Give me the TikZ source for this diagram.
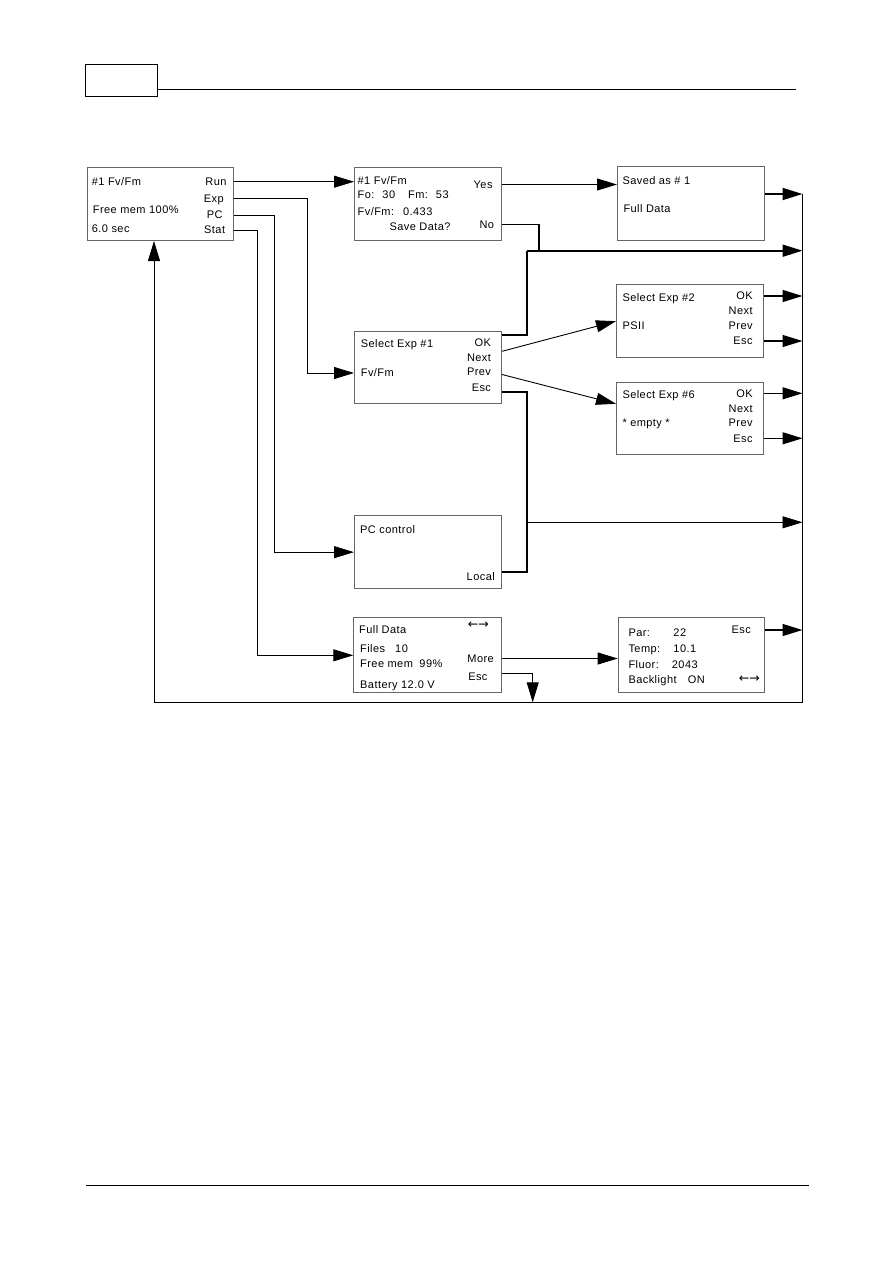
\documentclass[tikz,border=0pt]{standalone}
\usepackage{fontspec}
\newfontfamily\lcd{Liberation Sans}[LetterSpace=4]
\newfontfamily\sym{DejaVu Sans}
\usetikzlibrary{arrows.meta}

\begin{document}
\begin{tikzpicture}[
  x=1pt, y=-1pt,
  screen/.style={draw=black!60, line width=1pt, inner sep=0pt, anchor=north west},
  txt/.style={inner sep=0pt, text height=7.9pt, text depth=0pt, font=\lcd\fontsize{11}{13}\selectfont},
  lft/.style={txt, anchor=west},
  rgt/.style={txt, anchor=east},
  keys/.style={inner sep=0pt, font=\sym\fontsize{12.5}{14}\selectfont},
  rule/.style={draw=black, line width=1.1pt},
  wire/.style={-{Triangle[length=20pt, width=12pt]}, draw=black, line width=0.9pt},
  exitwire/.style={wire, line width=1.3pt},
  bold/.style={draw=black, line width=1.8pt},
  boldwire/.style={wire, line width=1.8pt},
  bus/.style={draw=black, line width=1.8pt}
]
\useasboundingbox (0,0) rectangle (893,1263);

% Page header and footer
\node[screen, draw=black, minimum width=71.4pt, minimum height=32pt] (hdr) at (85.3,64.3) {};
\draw[rule] ([yshift=8pt]hdr.south east) -- ++(638.3,0);
\draw[rule] (86,1185.3) -- (809.3,1185.3);

% --- Screens ---
\node[screen, minimum width=146.8pt, minimum height=72.7pt] (main)  at (86.5,167.3) {};
\node[screen, minimum width=146.7pt, minimum height=73.3pt] (meas)  at (354,166.7) {};
\node[screen, minimum width=147pt,   minimum height=74pt]   (saved) at (617,166) {};
\node[screen, minimum width=147pt,   minimum height=72.7pt] (selA)  at (354,330.7) {};
\node[screen, minimum width=146.7pt, minimum height=73.3pt] (selB)  at (616,284) {};
\node[screen, minimum width=146.7pt, minimum height=72.3pt] (selC)  at (616,381.7) {};
\node[screen, minimum width=147pt,   minimum height=73.3pt] (pcbox) at (354,515) {};
\node[screen, minimum width=147.7pt, minimum height=75pt]   (full)  at (353.3,617.3) {};
\node[screen, minimum width=146.3pt, minimum height=74.4pt] (info)  at (617.7,617.3) {};

% Main screen
\node[lft] (mTitle) at (91.7,181.7) {\#1 Fv/Fm};
\node[lft] (mMem)   at (92.7,210)   {Free mem 100\%};
\node[lft] (mTime)  at (91.7,228.3) {6.0 sec};
\node[rgt] (mRun)   at (226.7,181.7) {Run};
\node[rgt] (mExp)   at (224,198.5)   {Exp};
\node[rgt] (mPC)    at (222.7,215)   {PC};
\node[rgt] (mStat)  at (225.3,230)   {Stat};

% Measurement screen
\node[lft] (bTitle) at (357.5,180.7) {\#1 Fv/Fm};
\node[lft] (bFoFm)  at (357.5,195)   {Fo:\hspace{8pt}30\hspace{13pt}Fm:\hspace{8pt}53};
\node[lft] (bRatio) at (357.5,211.7) {Fv/Fm:\hspace{9pt}0.433};
\node[lft] (bSave)  at (389.3,226.7) {Save Data?};
\node[rgt] (bYes)   at (492.7,184.5) {Yes};
\node[rgt] (bNo)    at (494.3,224.5) {No};

% Saved screen
\node[lft] (cTitle) at (622.3,180.7) {Saved as \# 1};
\node[lft] (cData)  at (623.3,208.3) {Full Data};

% Experiment selection screens
\node[lft] (dTitle) at (360.7,344) {Select Exp \#1};
\node[lft] (dFv)    at (360.7,373) {Fv/Fm};
\node[lft] (eTitle) at (622.3,297.3) {Select Exp \#2};
\node[lft] (ePSII)  at (622.3,325.7) {PSII};
\node[lft] (fTitle) at (622.3,394.3) {Select Exp \#6};
\node[lft] (fEmpty) at (622.3,422.7) {* empty *};
\foreach \s/\x/\y in {d/491.2/342.3, e/752.8/296, f/752.8/393.3} {
  \node[rgt] (\s OK)   at (\x,\y)    {OK};
  \node[rgt] (\s Next) at (\x,\y+15) {Next};
  \node[rgt] (\s Prev) at (\x,\y+29.7) {Prev};
  \node[rgt] (\s Esc)  at (\x,\y+45) {Esc};
}

% PC control screen
\node[lft] (gTitle) at (360,529.3) {PC control};
\node[rgt] (gLocal) at (495,576.7) {Local};

% Full data screen
\node[lft] (hTitle) at (359,630)   {Full Data};
\node[keys] (hArrow) at (478.3,625) {←→};
\node[lft] (hFiles) at (360,648.3) {\makebox[35pt][l]{Files}10};
\node[lft] (hMem)   at (360,663.3) {\makebox[59.3pt][l]{Free mem}99\%};
\node[lft] (hBatt)  at (360,684.3) {Battery 12.0 V};
\node[rgt] (hMore)  at (494,658.5) {More};
\node[rgt] (hEsc)   at (487.7,676.7) {Esc};

% Sensor screen
\node[lft] (iPar)   at (628.3,632.3) {\makebox[45pt][l]{Par:}22};
\node[lft] (iTemp)  at (628.3,649)   {\makebox[45pt][l]{Temp:}10.1};
\node[lft] (iFluor) at (628.3,665)   {\makebox[43.4pt][l]{Fluor:}2043};
\node[lft] (iLight) at (628.3,680)   {\makebox[59.4pt][l]{Backlight}ON};
\node[rgt] (iEsc)   at (751,630)     {Esc};
\node[keys] (iArrow) at (749.3,679)  {←→};

% --- Junction points ---
\coordinate (busTop)  at (802.5,194);
\coordinate (busBot)  at (802.5,702.3);
\coordinate (retL)    at (154,702.3);
\coordinate (okUp)    at (526.7,250.7);
\coordinate (noJoin)  at (539,250.7);
\coordinate (escTap)  at (526.7,522.3);
\coordinate (locJoin) at (526.7,572.3);
\coordinate (escDrop) at (532.7,702.3);

% --- Menu keys of main screen ---
\draw[wire] (main.east |- mRun) -- (meas.west |- mRun);
\draw[wire] (main.east |- mExp) -- ++(73,0) |- (selA.west |- dFv);
\draw[wire] (main.east |- mPC) -- ++(40,0) |- (pcbox.west);
\draw[wire] (main.east |- mStat) -- ++(23,0) |- (full.west);

% --- Save / experiment paths ---
\draw[wire] (meas.east |- bYes) -- (saved.west |- bYes);
\draw[bold] (meas.east |- bNo) -| (noJoin);
\draw[boldwire] (saved.east |- busTop) -- (busTop);
\draw[bold] ([yshift=7pt]selA.east |- dOK) -| (okUp);
\draw[boldwire] (okUp) -- (okUp -| busTop);
\draw[wire] ([yshift=6pt]selA.east |- dNext) -- (selB.west);
\draw[wire] ([yshift=-2.5pt]selA.east |- dPrev) -- ([yshift=14.5pt]selC.west);
\draw[bold] ([yshift=-5pt]selA.east |- dEsc) -| (locJoin) -- (pcbox.east |- locJoin);
\draw[wire] (escTap) -- (escTap -| busTop);
\foreach \b/\l in {selB/eOK, selB/eEsc, selC/fOK, selC/fEsc} {
  \draw[exitwire] (\b.east |- \l) -- (busTop |- \l);
}

% --- Data screens ---
\draw[wire] (full.east |- hMore) -- (info.west |- hMore);
\draw[wire] ([yshift=3.4pt]full.east |- hEsc) -| (escDrop);
\draw[exitwire] (info.east |- iEsc) -- (busTop |- iEsc);

% --- Return bus ---
\draw[bus] (busTop) -- (busBot);
\draw[wire] (busBot) -- (retL) -- (retL |- main.south);

\end{tikzpicture}
\end{document}
